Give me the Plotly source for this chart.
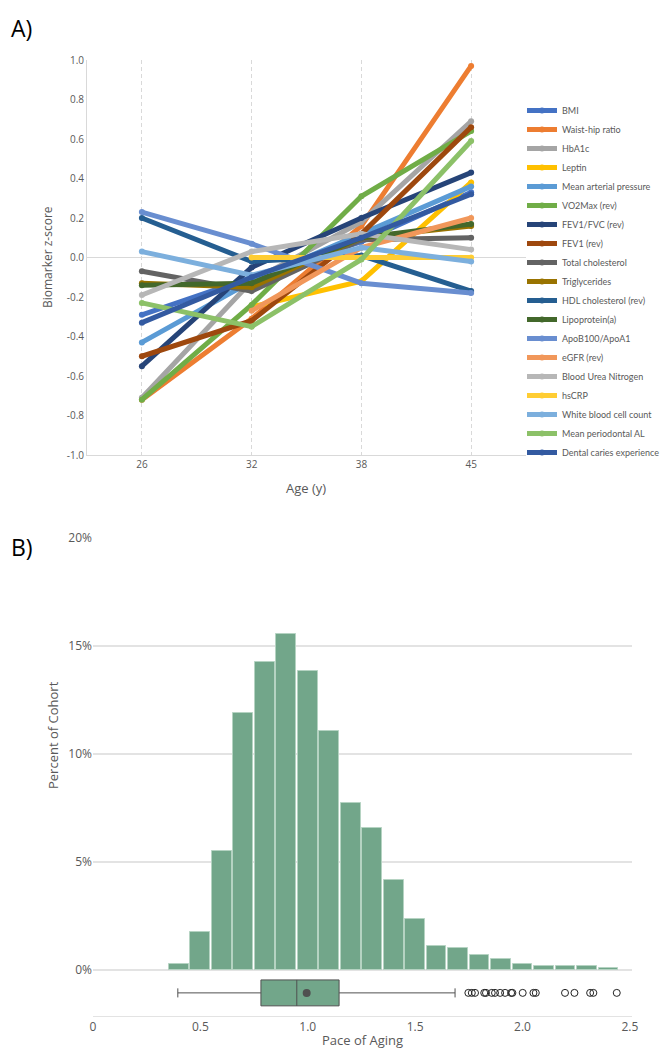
import plotly.graph_objects as go

# page is 669x1050; the browser adds an 8px body margin, so the figure is drawn
# 8px smaller and every position below is given in page pixels.
OFF = 8
W, H = 669 - OFF, 1050 - OFF

# ---------------- Panel A data ----------------
ages = ["26", "32", "38", "45"]
biomarkers = [
    "BMI", "Waist-hip ratio", "HbA1c", "Leptin", "Mean arterial pressure",
    "VO2Max (rev)", "FEV1/FVC (rev)", "FEV1 (rev)", "Total cholesterol",
    "Triglycerides", "HDL cholesterol (rev)", "Lipoprotein(a)", "ApoB100/ApoA1",
    "eGFR (rev)", "Blood Urea Nitrogen", "hsCRP", "White blood cell count",
    "Mean periodontal AL", "Dental caries experience",
]
z_bmi = [-0.29, -0.10, 0.08, 0.33]
z_whr = [-0.72, -0.31, 0.16, 0.97]
z_hba1c = [-0.71, -0.12, 0.18, 0.69]
z_leptin = [None, -0.25, -0.12, 0.38]
z_map = [-0.43, -0.12, 0.12, 0.36]
z_vo2 = [-0.72, -0.24, 0.31, 0.64]
z_fev1fvc = [-0.55, -0.05, 0.20, 0.43]
z_fev1 = [-0.50, -0.32, 0.12, 0.66]
z_tchol = [-0.07, -0.17, 0.09, 0.10]
z_trig = [-0.13, -0.15, 0.10, 0.16]
z_hdl = [0.20, -0.02, 0.01, -0.17]
z_lpa = [-0.14, -0.13, 0.10, 0.17]
z_apob = [0.23, 0.07, -0.13, -0.18]
z_egfr = [None, -0.27, 0.05, 0.20]
z_bun = [-0.19, 0.03, 0.12, 0.04]
z_hscrp = [None, 0.00, 0.00, 0.00]
z_wbc = [0.03, -0.09, 0.05, -0.02]
z_perio = [-0.23, -0.35, -0.01, 0.59]
z_caries = [-0.33, -0.10, 0.10, 0.32]
series_values = [z_bmi, z_whr, z_hba1c, z_leptin, z_map, z_vo2, z_fev1fvc, z_fev1,
                 z_tchol, z_trig, z_hdl, z_lpa, z_apob, z_egfr, z_bun, z_hscrp,
                 z_wbc, z_perio, z_caries]
series_colors = ["#4472C4", "#ED7D31", "#A5A5A5", "#FFC000", "#5B9BD5", "#70AD47",
                 "#264478", "#9E480E", "#636363", "#997300", "#255E91", "#43682B",
                 "#698ED0", "#F1975A", "#B7B7B7", "#FFCD33", "#7CAFDD", "#8CC168",
                 "#335AA1"]
ytick_vals_a = [1.0, 0.8, 0.6, 0.4, 0.2, 0.0, -0.2, -0.4, -0.6, -0.8, -1.0]
ytick_text_a = ["1.0", "0.8", "0.6", "0.4", "0.2", "0.0", "-0.2", "-0.4", "-0.6", "-0.8", "-1.0"]

# ---------------- Panel B data ----------------
bin_centers = [0.4, 0.5, 0.6, 0.7, 0.8, 0.9, 1.0, 1.1, 1.2, 1.3, 1.4, 1.5, 1.6,
               1.7, 1.8, 1.9, 2.0, 2.1, 2.2, 2.3, 2.4]
pct_cohort = [0.29, 1.76, 5.52, 11.88, 14.27, 15.56, 13.86, 11.05, 7.72, 6.56,
              4.15, 2.38, 1.13, 1.03, 0.71, 0.51, 0.29, 0.20, 0.20, 0.20, 0.09]
box_lowerfence = 0.395
box_q1 = 0.782
box_median = 0.949
box_mean = 0.995
box_q3 = 1.146
box_upperfence = 1.686
outliers = [1.748, 1.764, 1.779, 1.822, 1.830, 1.857, 1.872, 1.896, 1.919, 1.947,
            1.953, 2.001, 2.051, 2.062, 2.198, 2.242, 2.315, 2.330, 2.439]
ytick_vals_b = [0, 5, 10, 15, 20]
ytick_text_b = ["0%", "5%", "10%", "15%", "20%"]
xtick_vals_b = [0, 0.5, 1.0, 1.5, 2.0, 2.5]
xtick_text_b = ["0", "0.5", "1.0", "1.5", "2.0", "2.5"]

FONT = "Open Sans"
GREY = "#595959"
GREEN = "#72A68A"

fig = go.Figure()

for name, vals, col in zip(biomarkers, series_values, series_colors):
    fig.add_trace(go.Scatter(
        x=ages, y=vals, name=name, mode="lines+markers",
        line=dict(color=col, width=5), marker=dict(color=col, size=6),
        xaxis="x", yaxis="y", connectgaps=False,
    ))

fig.add_trace(go.Bar(
    x=bin_centers, y=pct_cohort, width=0.092, showlegend=False,
    marker=dict(color=GREEN, line=dict(color="#b5d3c2", width=1)),
    xaxis="x2", yaxis="y2",
))
fig.add_trace(go.Box(
    y=[-1.06], q1=[box_q1], median=[box_median], q3=[box_q3],
    lowerfence=[box_lowerfence], upperfence=[box_upperfence],
    orientation="h", width=1.2, whiskerwidth=0.35, boxpoints=False,
    fillcolor=GREEN, line=dict(color="#505050", width=1), showlegend=False,
    xaxis="x2", yaxis="y2",
))
fig.add_trace(go.Scatter(
    x=outliers, y=[-1.06] * len(outliers), mode="markers", showlegend=False,
    marker=dict(symbol="circle-open", size=7, color="#222222", line=dict(width=1)),
    xaxis="x2", yaxis="y2",
))
fig.add_trace(go.Scatter(
    x=[box_mean], y=[-1.06], mode="markers", showlegend=False,
    marker=dict(symbol="circle", size=8, color="#505050"),
    xaxis="x2", yaxis="y2",
))

def px_x(p):
    return (p - OFF) / W

def px_y(p):
    return 1 - (p - OFF) / H

def label(text, x, y, size, color=GREY, angle=0, xanchor="center"):
    return dict(text=text, x=px_x(x), y=px_y(y), xref="paper", yref="paper",
                xanchor=xanchor, yanchor="middle", showarrow=False,
                textangle=angle, font=dict(size=size, color=color, family=FONT))

fig.update_layout(
    width=W, height=H,
    margin=dict(l=0, r=0, t=0, b=0, autoexpand=False),
    paper_bgcolor="white", plot_bgcolor="white",
    font=dict(family=FONT, color=GREY),
    xaxis=dict(
        domain=[px_x(87), px_x(526)], anchor="y", type="category",
        range=[-0.5, 3.5], showgrid=True, griddash="4px,3px", gridcolor="#d9d9d9",
        gridwidth=1, showline=True, linecolor="#d9d9d9", ticks="",
        tickfont=dict(size=10, color=GREY), zeroline=False, automargin=False,
    ),
    yaxis=dict(
        domain=[px_y(455), px_y(60)], anchor="x", range=[-1.0, 1.0],
        tickvals=ytick_vals_a, ticktext=ytick_text_a, showgrid=False,
        zeroline=True, zerolinecolor="#d9d9d9", zerolinewidth=1,
        showline=True, linecolor="#d9d9d9", ticks="", automargin=False,
        tickfont=dict(size=10, color=GREY),
    ),
    xaxis2=dict(
        domain=[px_x(93), px_x(632)], anchor="y2", range=[0, 2.51],
        tickvals=xtick_vals_b, ticktext=xtick_text_b, showgrid=False,
        zeroline=False, showline=True, linecolor="#e3e3e3", ticks="",
        tickfont=dict(size=12, color=GREY), automargin=False,
    ),
    yaxis2=dict(
        domain=[px_y(1016), px_y(538)], anchor="x2", range=[-2.13, 20.0],
        tickvals=ytick_vals_b, ticktext=ytick_text_b, showgrid=True,
        gridcolor="#e3e3e3", gridwidth=1.5, zeroline=False, ticks="",
        tickfont=dict(size=12, color=GREY), automargin=False,
    ),
    legend=dict(
        x=px_x(522), y=px_y(96), xanchor="left", yanchor="top",
        font=dict(size=9, color=GREY, family="Lato"), tracegroupgap=0,
        bgcolor="rgba(0,0,0,0)",
    ),
    bargap=0,
    annotations=[
        label("A)", 9, 28, 23, color="black", xanchor="left"),
        label("B)", 9, 547, 23, color="black", xanchor="left"),
        label("Biomarker z-score", 48, 257, 12, angle=-90),
        label("Age (y)", 306, 488, 13),
        label("Percent of Cohort", 53, 735, 13, angle=-90),
        label("Pace of Aging", 362, 1040, 13),
    ],
)

fig.write_html("out.html")
